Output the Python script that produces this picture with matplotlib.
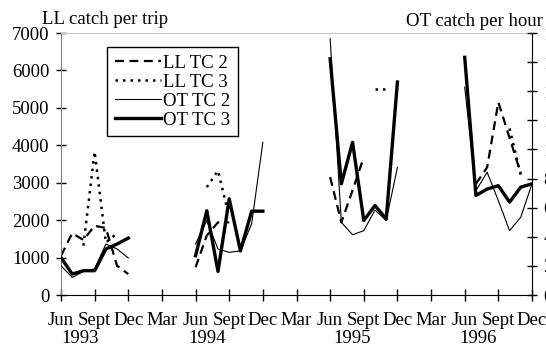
"""
LL / OT catch rates, 1993-1996
"""
import numpy as np
import matplotlib
matplotlib.use('Agg')
import matplotlib.pyplot as plt

# 每年 Jun..Dec 七个月
years = [1993, 1994, 1995, 1996]
month_labels = ['Jun', 'Sept', 'Dec', 'Mar']
year_label_pos = [1.7, 13.0, 26.0, 37.2]  # 年份标签位置 (月序号)

nan = np.nan
# LL catch per trip (左轴)
ll_tc2 = [[1050, 1650, 1470, 1850, 1790, 780, 560],
          [740, 1590, 1940, 1940, nan, nan, nan],
          [3150, 1940, 2800, 3680, nan, nan, nan],
          [nan, 2970, 3410, 5150, 4200, 3250, nan]]
ll_tc3 = [[nan, nan, 1320, 3830, 1400, 1650, nan],
          [nan, 2880, 3320, 2080, nan, nan, nan],
          [nan, nan, nan, nan, 5500, 5500, nan],
          [nan, nan, nan, nan, 4450, 3200, nan]]
# OT catch per hour (右轴)
ot_tc2 = [[20.1, 12.1, 16.2, 18.0, 35.0, 31.6, 25.5],
          [35.0, 51.2, 31.6, 29.3, 30.3, 48.9, 104.9],
          [176.1, 49.9, 41.4, 44.2, 58.4, 51.2, 87.7],
          [142.7, 71.7, 84.3, 64.8, 44.2, 53.5, 76.4]]
ot_tc3 = [[25.7, 14.4, 16.7, 16.7, 31.6, 35.0, 39.1],
          [27.0, 57.9, 16.2, 66.1, 30.3, 57.6, 57.6],
          [162.3, 76.4, 104.9, 51.2, 61.5, 52.2, 146.3],
          [163.3, 68.4, 72.8, 75.1, 63.8, 74.1, 76.4]]

plt.rcParams['font.family'] = ['Liberation Serif', 'DejaVu Serif']
plt.rcParams['font.size'] = 13.5

fig = plt.figure(figsize=(5.46, 3.46), dpi=100)
ax = fig.add_axes([61 / 546, 51 / 346, 471 / 546, 262 / 346])
ax2 = ax.twinx()

styles = {
    'LL TC 2': dict(color='black', lw=1.6, ls=(0, (4, 2.5))),
    'LL TC 3': dict(color='black', lw=1.8, ls=(0, (1, 2))),
    'OT TC 2': dict(color='black', lw=0.8, ls='-'),
    'OT TC 3': dict(color='black', lw=2.4, ls='-'),
}
handles = {}
for k in range(len(years)):
    m = np.arange(7) + 12 * k
    for name, target, data in [('LL TC 2', ax, ll_tc2), ('LL TC 3', ax, ll_tc3),
                               ('OT TC 2', ax2, ot_tc2), ('OT TC 3', ax2, ot_tc3)]:
        line, = target.plot(m, data[k], **styles[name])
        handles[name] = line

ax.set_xlim(0, 42)
ax.set_ylim(0, 7000)
ax2.set_ylim(0, 180)

ax.set_xticks(np.arange(0, 43, 3))
ax.set_xticklabels([month_labels[i % 4] for i in range(15)])
ax.set_yticks(np.arange(0, 7001, 1000))
ax2.set_yticks(np.arange(0, 181, 20))

ax.tick_params(axis='x', direction='inout', length=8, width=1, pad=8.5)
ax.tick_params(axis='y', direction='inout', length=7.5, width=1, pad=4.5)
ax2.tick_params(axis='y', direction='inout', length=7.5, width=1, pad=4.5)

for i, yr in enumerate(years):
    ax.text(year_label_pos[i], -0.183, str(yr), transform=ax.get_xaxis_transform(),
            ha='center', va='baseline')

ax.spines['top'].set_color('#c8c8c8')
ax.spines['left'].set_color('#808080')
ax.spines['right'].set_visible(False)
for s in ['left', 'top', 'bottom']:
    ax2.spines[s].set_visible(False)
ax2.spines['right'].set_color('black')

fig.text(42 / 546, 1 - 24 / 346, 'LL catch per trip', ha='left', va='baseline')
fig.text(543 / 546, 1 - 26 / 346, 'OT catch per hour', ha='right', va='baseline')

leg = ax2.legend([handles[n] for n in styles], list(styles), loc='upper left',
                 bbox_to_anchor=((107 - 61) / 471, (295 - 47) / 262), borderaxespad=0,
                 fancybox=False, edgecolor='black', framealpha=1, handlelength=2.5,
                 handletextpad=0.1, labelspacing=0.1, borderpad=0.4)
leg.get_frame().set_linewidth(1)

fig.savefig('out.png', dpi=100)
plt.close(fig)
